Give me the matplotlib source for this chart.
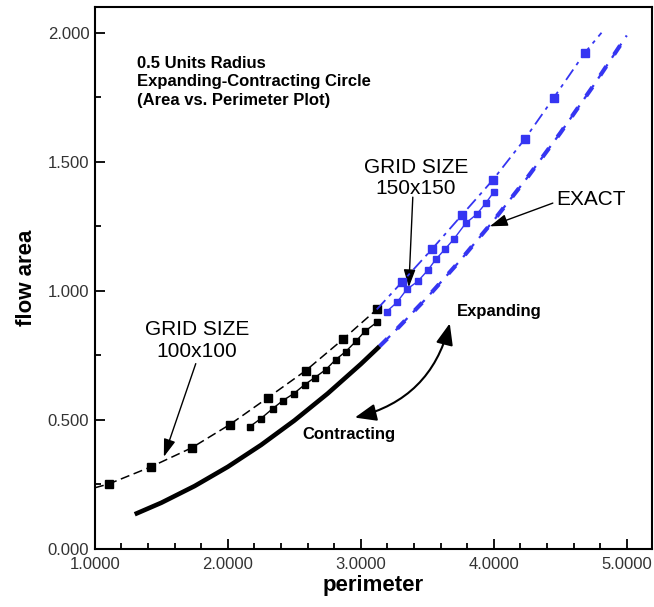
import matplotlib
matplotlib.use("Agg")
import matplotlib.pyplot as plt
from matplotlib.ticker import MultipleLocator, FormatStrFormatter
from matplotlib.patches import FancyArrowPatch

plt.rcParams['font.family'] = ['Liberation Sans', 'DejaVu Sans']

# ---- data ----
# exact solution (contracting part, black) and expanding part (blue)
exact_c_p = [1.30, 1.50, 1.75, 2.00, 2.25, 2.50, 2.75, 3.00, 3.1416]
exact_c_a = [0.1345, 0.1790, 0.2437, 0.3183, 0.4029, 0.4974, 0.6018, 0.7162, 0.7854]
exact_e_p = [3.1416, 3.25, 3.50, 3.75, 4.00, 4.25, 4.50, 4.75, 5.00]
exact_e_a = [0.7854, 0.8405, 0.9748, 1.1191, 1.2732, 1.4374, 1.6114, 1.7955, 1.9894]

# grid 100x100, large squares (first point = line start, no marker)
g100_big_p = [1.000, 1.105, 1.421, 1.729, 2.015, 2.301, 2.586, 2.865, 3.120]
g100_big_a = [0.237, 0.252, 0.318, 0.392, 0.482, 0.586, 0.691, 0.812, 0.928]
# grid 100x100, small squares
g100_small_p = [2.165, 2.248, 2.338, 2.414, 2.496, 2.579, 2.654, 2.737, 2.812, 2.887, 2.962, 3.030, 3.120]
g100_small_a = [0.474, 0.505, 0.544, 0.575, 0.602, 0.637, 0.664, 0.695, 0.734, 0.765, 0.804, 0.843, 0.878]
# grid 150x150, large squares (first / last point = line ends, no marker)
g150_big_p = [3.120, 3.308, 3.534, 3.759, 3.992, 4.233, 4.451, 4.684, 4.810]
g150_big_a = [0.928, 1.033, 1.161, 1.293, 1.429, 1.588, 1.748, 1.922, 2.000]
# grid 150x150, small squares
g150_small_p = [3.195, 3.271, 3.346, 3.429, 3.504, 3.564, 3.632, 3.699, 3.789, 3.872, 3.940, 4.000]
g150_small_a = [0.920, 0.955, 1.006, 1.037, 1.080, 1.122, 1.161, 1.200, 1.262, 1.297, 1.340, 1.383]

x_ticks = [1.0, 2.0, 3.0, 4.0, 5.0]
y_ticks = [0.0, 0.5, 1.0, 1.5, 2.0]

BLUE = '#3535f2'

fig = plt.figure(figsize=(6.54, 6.07), dpi=100)
ax = fig.add_axes([0.145, 0.0956, 0.852, 0.893])

# exact
ax.plot(exact_c_p, exact_c_a, color='black', lw=3.3, solid_capstyle='butt')
ax.plot(exact_e_p, exact_e_a, color=BLUE, lw=3.0, linestyle=(0, (2.6, 3.4)), dash_capstyle='butt')
ax.plot(exact_e_p, exact_e_a, color=BLUE, lw=1.6, linestyle=(6.6, (2.0, 3.6)), dash_capstyle='butt')

# grid 100x100
ax.plot(g100_big_p, g100_big_a, color='black', lw=1.1, linestyle=(0, (6, 3)),
        marker='s', markersize=6.2, markevery=slice(1, None))
ax.plot(g100_small_p, g100_small_a, color='black', lw=1.0,
        marker='s', markersize=4.3)
# grid 150x150
ax.plot(g150_big_p, g150_big_a, color=BLUE, lw=1.3, linestyle=(0, (7, 3, 2, 3)),
        marker='s', markersize=6.2, markevery=slice(1, -1))
ax.plot(g150_small_p, g150_small_a, color=BLUE, lw=1.0,
        marker='s', markersize=4.3)

ax.set_xlim(1.0, 5.19)
ax.set_ylim(0.0, 2.10)
ax.set_xticks(x_ticks)
ax.set_yticks(y_ticks)
ax.xaxis.set_minor_locator(MultipleLocator(0.2))
ax.yaxis.set_minor_locator(MultipleLocator(0.25))
ax.xaxis.set_major_formatter(FormatStrFormatter('%.4f'))
ax.yaxis.set_major_formatter(FormatStrFormatter('%.3f'))
ax.tick_params(which='both', direction='in', top=False, right=False, width=1.3,
               labelsize=12, labelcolor='#333333')
ax.tick_params(which='major', length=7)
ax.tick_params(which='minor', length=4.5)
ax.tick_params(axis='x', pad=6)
ax.tick_params(axis='y', pad=4)
for s in ax.spines.values():
    s.set_linewidth(1.5)

ax.set_xlabel('perimeter', fontsize=16, fontweight='bold', labelpad=2)
ax.set_ylabel('flow area', fontsize=16, fontweight='bold', labelpad=8)

# texts
ax.text(1.316, 1.81, '0.5 Units Radius\nExpanding-Contracting Circle\n(Area vs. Perimeter Plot)',
        fontsize=12, fontweight='bold', ha='left', va='center', linespacing=1.3)
ax.text(1.767, 0.808, 'GRID SIZE\n100x100', fontsize=15, ha='center', va='center', linespacing=1.15)
ax.text(3.414, 1.437, 'GRID SIZE\n150x150', fontsize=15, ha='center', va='center', linespacing=1.15)
ax.text(4.729, 1.355, 'EXACT', fontsize=15, ha='center', va='center')
ax.text(4.038, 0.920, 'Expanding', fontsize=12, fontweight='bold', ha='center', va='center')
ax.text(2.910, 0.443, 'Contracting', fontsize=12, fontweight='bold', ha='center', va='center')

arrow_kw = dict(arrowstyle='-|>,head_length=0.9,head_width=0.3', color='black', lw=1.0,
                shrinkA=0, shrinkB=0, mutation_scale=12)
ax.add_patch(FancyArrowPatch((1.759, 0.718), (1.519, 0.357), **arrow_kw))
ax.add_patch(FancyArrowPatch((3.391, 1.363), (3.361, 1.014), **arrow_kw))
ax.add_patch(FancyArrowPatch((4.444, 1.340), (3.970, 1.250), **arrow_kw))
ax.add_patch(FancyArrowPatch((2.955, 0.509), (3.669, 0.874),
                             arrowstyle='<|-|>,head_length=1.0,head_width=0.4',
                             connectionstyle='arc3,rad=0.3', color='black', lw=1.5,
                             shrinkA=0, shrinkB=0, mutation_scale=13))

fig.savefig('out.png', dpi=100)
